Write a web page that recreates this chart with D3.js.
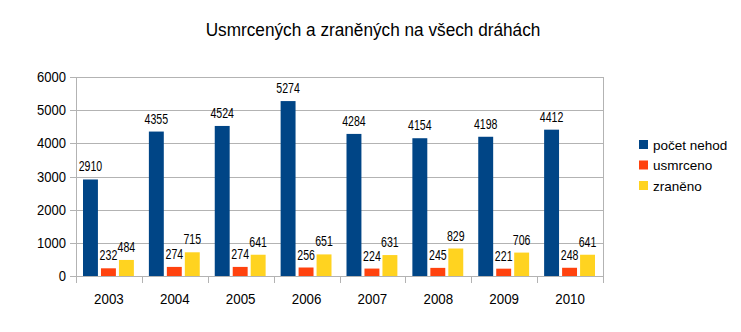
<!DOCTYPE html>
<html><head><meta charset="utf-8">
<script src="https://cdn.jsdelivr.net/npm/d3@7"></script>
<style>body{margin:0;background:#fff}svg{display:block}</style>
</head><body>
<script>
const years = ["2003","2004","2005","2006","2007","2008","2009","2010"];
const seriesNames = ["počet nehod","usmrceno","zraněno"];
const nehod = [2910,4355,4524,5274,4284,4154,4198,4412];
const usmrceno = [232,274,274,256,224,245,221,248];
const zraneno = [484,715,641,651,631,829,706,641];
const yTicks = [0,1000,2000,3000,4000,5000,6000];
const colors = ["#004586","#ff420e","#ffd320"];
const title = "Usmrcených a zraněných na všech dráhách";

(function(){
const W=741,H=332;
const svg=d3.select("body").append("svg").attr("width",W).attr("height",H);
const pl=76,pr=603,pt=77,pb=276;
const x=d3.scaleBand().domain(years).range([pl,pr]).paddingInner(0).paddingOuter(0);
const xs=d3.scaleBand().domain([0,1,2]).range([7,x.bandwidth()-8]).paddingInner(0.17).paddingOuter(0);
const y=d3.scaleLinear().domain([0,6000]).range([pb,pt]);
const font="'Liberation Sans',Arial,sans-serif";

svg.append("text").attr("transform","translate(373,36) scale(0.93,1)").attr("text-anchor","middle")
  .attr("font-family",font).attr("font-size",18.5).attr("fill","#000").text(title);

svg.append("g").selectAll("line").data(yTicks).join("line")
  .attr("x1",pl-6).attr("x2",pr).attr("y1",d=>Math.round(y(d))+0.5).attr("y2",d=>Math.round(y(d))+0.5)
  .attr("stroke","#b3b3b3").attr("stroke-width",1);
svg.append("line").attr("x1",pr+0.5).attr("x2",pr+0.5).attr("y1",pt).attr("y2",pb+7).attr("stroke","#b3b3b3");
svg.append("line").attr("x1",pl+0.5).attr("x2",pl+0.5).attr("y1",pt).attr("y2",pb+7).attr("stroke","#b3b3b3");
svg.append("g").selectAll("line").data(years.slice(1)).join("line")
  .attr("x1",d=>Math.round(x(d))+0.5).attr("x2",d=>Math.round(x(d))+0.5).attr("y1",pb).attr("y2",pb+7)
  .attr("stroke","#b3b3b3");

svg.append("g").selectAll("text").data(yTicks).join("text")
  .attr("transform",d=>`translate(${pl-10},${y(d)+5}) scale(0.93,1)`).attr("text-anchor","end")
  .attr("font-family",font).attr("font-size",14).text(d=>d);
svg.append("g").selectAll("text").data(years).join("text")
  .attr("transform",d=>`translate(${x(d)+x.bandwidth()/2},${pb+28}) scale(0.92,1)`).attr("text-anchor","middle")
  .attr("font-family",font).attr("font-size",14.5).text(d=>d);

const series=[nehod,usmrceno,zraneno];
series.forEach((vals,si)=>{
  const g=svg.append("g");
  g.selectAll("rect").data(vals).join("rect")
    .attr("x",(d,i)=>x(years[i])+xs(si)).attr("width",xs.bandwidth())
    .attr("y",d=>y(d)).attr("height",d=>pb-y(d)).attr("fill",colors[si]);
  g.selectAll("text").data(vals).join("text")
    .attr("transform",(d,i)=>`translate(${x(years[i])+xs(si)+xs.bandwidth()/2},${y(d)-8}) scale(0.73,1)`)
    .attr("text-anchor","middle").attr("font-family",font).attr("font-size",14.5).text(d=>d);
});

const lg=svg.append("g");
seriesNames.forEach((n,i)=>{
  lg.append("rect").attr("x",639).attr("y",140+i*20.5).attr("width",9).attr("height",9).attr("fill",colors[i]);
  lg.append("text").attr("x",653).attr("y",149.5+i*20.5).attr("font-family",font).attr("font-size",13.5).text(n);
});
})();
</script>
</body></html>
